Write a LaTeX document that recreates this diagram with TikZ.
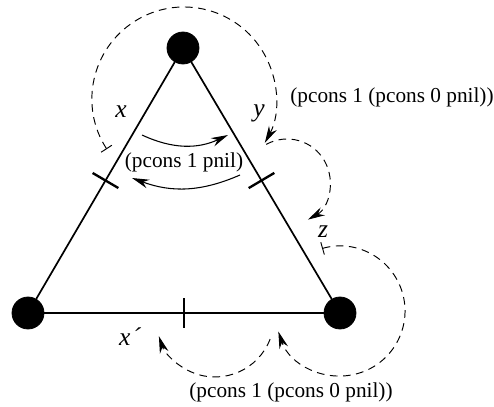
\documentclass[tikz,border=0pt]{standalone}
\usepackage{fontspec}
\setmainfont{Liberation Serif}
\usepackage{tikz}
\usetikzlibrary{arrows.meta, positioning}

\begin{document}
\begin{tikzpicture}[x=0.47pt, y=0.47pt, font=\fontsize{10}{12}\selectfont]
        \tikzstyle{vertex} = [circle, fill=black, draw=black, minimum size=15pt, inner sep=0pt]
        \tikzstyle{edge} = [line width=0.8pt]
        \tikzstyle{tick} = [rectangle, sloped, draw, line width=1.1pt, minimum width=0pt, minimum height=14pt, inner sep=0pt]
        \tikzstyle{var} = [font=\fontsize{12}{14}\selectfont\itshape]
        \tikzstyle{flow} = [line width=0.5pt, -{Stealth[length=8pt, width=4.2pt]}]
        \tikzstyle{loopline} = [line width=0.45pt, dash pattern=on 3.6pt off 2.6pt]
        \useasboundingbox (0,0) rectangle (494,406);

        \node (vtop) [vertex] at (183,358) {};
        \node (vleft) [vertex] at (28,93) {};
        \node (vright) [vertex] at (340,93) {};

        \draw [edge] (vtop) -- node[tick] {} (vleft);
        \draw [edge] (vtop) -- node[tick] {} (vright);
        \draw [edge] (vleft) -- node[tick] {} (vright);

        \node (labx) [var] at (121,294) {x};
        \node (laby) [var] at (259,293) {y};
        \node (labz) [var] at (323,174) {z};
        \node (labxp) [var] at (130,69) {x\kern1pt´};

        \node (inner) at (184,244) {(pcons 1 pnil)};
        \node (outer) at (392,309) {(pcons 1 (pcons 0 pnil))};
        \node (below) at (291,14) {(pcons 1 (pcons 0 pnil))};

        % curved arrows inside the triangle
        \coordinate (ta) at (142,271);
        \coordinate (tb) at (228,271);
        \coordinate (ba) at (240,231);
        \coordinate (bb) at (132,228);
        \draw [flow] (ta) to[bend right=25] (tb);
        \draw [flow] (ba) to[bend left=22] (bb);

        % dashed loops round the vertices
        \coordinate (xstart) at (106.8,256.9);
        \coordinate (ystart) at (266.2,261.6);
        \coordinate (zstart) at (322.1,157.5);
        \coordinate (xpstart) at (270.1,66.9);
        \draw [loopline, {Bar[width=6pt, line width=0.45pt]}-{Stealth[length=8pt, width=4.2pt]}]
            (xstart) arc[start angle=213, end angle=-28.5, radius=92];
        \draw [loopline, -{Stealth[length=8pt, width=4.2pt]}]
            (ystart) arc[start angle=119, end angle=-61, radius=43];
        \draw [loopline, {Bar[width=6pt, line width=0.45pt]}-{Stealth[length=8pt, width=4.2pt]}]
            (zstart) arc[start angle=106, end angle=-161.6, radius=65];
        \draw [loopline, -{Stealth[length=8pt, width=4.2pt]}]
            (xpstart) arc[start angle=-21, end angle=-162, radius=59];
    \end{tikzpicture}
\end{document}
